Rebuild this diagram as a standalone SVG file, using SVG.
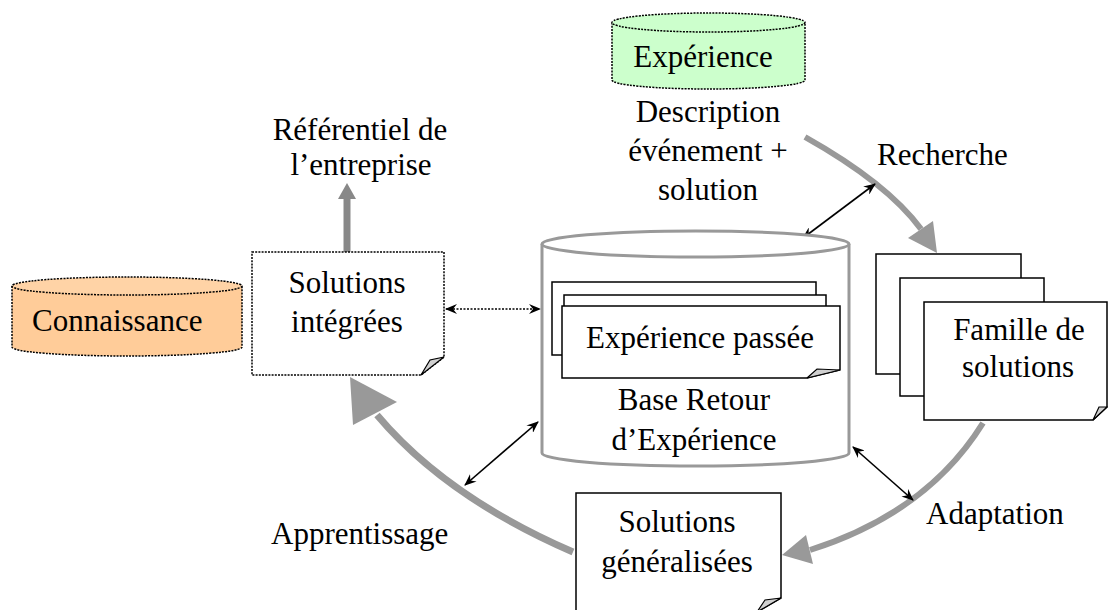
<svg xmlns="http://www.w3.org/2000/svg" width="1108" height="610" viewBox="0 0 1108 610">
<style>
text{font-family:"Liberation Serif","Times New Roman",serif;font-size:31px;fill:#000;}
.c{text-anchor:middle;}
.page{fill:#fff;stroke:#000;stroke-width:1.5;}
.dot{fill:#fff;stroke:#000;stroke-width:1.5;stroke-dasharray:2 1.2;}
.fold{fill:#d0d0d0;stroke:#000;stroke-width:1.2;}
.big{fill:none;stroke:#999;stroke-width:6;}
.head{fill:#999;}
.thin{fill:none;stroke:#000;stroke-width:1.6;marker-start:url(#ah);marker-end:url(#ah);}
</style>
<defs>
<marker id="ah" viewBox="0 0 12 10" refX="11" refY="5" markerWidth="12" markerHeight="10" markerUnits="userSpaceOnUse" orient="auto-start-reverse">
<path d="M0,0 L12,5 L0,10 L4,5 z" fill="#000"/>
</marker>
</defs>

<g id="connectors">
<!-- up arrow to Référentiel -->
<line x1="347" y1="252" x2="347" y2="198" stroke="#888" stroke-width="7"/>
<polygon points="347,183 338,199 356,199" fill="#888"/>
<!-- Recherche -->
<path class="big" d="M805,137 Q887,183 921,229"/>
<polygon class="head" points="937,253 908,238 933,221"/>
<!-- Adaptation -->
<path class="big" d="M983,423 Q927,513 810,550"/>
<polygon class="head" points="782,555 806,535 813,564"/>
<!-- Apprentissage -->
<path class="big" style="stroke-width:7" d="M573,552 Q446,497 377,415"/>
<polygon class="head" points="350,377 353,425 397,402"/>
<!-- thin double arrows -->
<line class="thin" x1="875" y1="184" x2="803" y2="238"/>
<line class="thin" x1="538" y1="422" x2="465" y2="485"/>
<line class="thin" x1="853" y1="447" x2="913" y2="500"/>
<line class="thin" style="stroke-dasharray:2 1.5" x1="446" y1="309" x2="540" y2="309"/>
</g>

<g id="experience">
<path d="M612,22.5 L612,80 A96.5,9 0 0 0 805,80 L805,22.5" fill="#ccffcc" stroke="#000" stroke-width="1.5" stroke-dasharray="2 1.2"/>
<ellipse cx="708.5" cy="22.5" rx="96.5" ry="9.5" fill="#ccffcc" stroke="#000" stroke-width="1.5" stroke-dasharray="2 1.2"/>
<text class="c" x="703" y="67">Expérience</text>
</g>

<g id="description">
<text class="c" x="708" y="122">Description</text>
<text class="c" x="708" y="161">événement +</text>
<text class="c" x="708" y="200">solution</text>
</g>

<g id="recherche"><text x="877" y="165">Recherche</text></g>
<g id="referentiel">
<text class="c" x="360" y="140">Référentiel de</text>
<text class="c" x="361" y="175">l’entreprise</text>
</g>

<g id="connaissance">
<path d="M12,286 L12,347 A115,9 0 0 0 242,347 L242,286" fill="#ffcc99" stroke="#000" stroke-width="1.5" stroke-dasharray="2 1.2"/>
<ellipse cx="127" cy="286" rx="115" ry="9" fill="#ffd3a6" stroke="#000" stroke-width="1.5" stroke-dasharray="2 1.2"/>
<text x="32" y="331">Connaissance</text>
</g>

<g id="solutions-integrees">
<path class="dot" d="M252,252 L444,252 L444,357 L421,375 L252,375 Z"/>
<path class="fold" d="M421,375 L444,357 L430,360 Z"/>
<text class="c" x="347" y="293">Solutions</text>
<text class="c" x="347" y="332">intégrées</text>
</g>

<g id="base-retour">
<path d="M542,244 L542,453 A153.5,13 0 0 0 849,453 L849,244" fill="#fff" stroke="#999" stroke-width="3"/>
<ellipse cx="695.5" cy="244" rx="153.5" ry="13" fill="#fff" stroke="#999" stroke-width="3"/>
<rect class="page" x="552" y="282" width="264" height="73"/>
<rect class="page" x="564" y="295" width="262" height="70"/>
<path class="page" d="M562,306 L840,306 L840,370 L807,378 L562,378 Z"/>
<path class="fold" d="M807,378 L840,370 L817,369 Z"/>
<text class="c" x="700" y="348">Expérience passée</text>
<text class="c" x="694" y="410">Base Retour</text>
<text class="c" x="694" y="450">d’Expérience</text>
</g>

<g id="famille">
<rect class="page" x="876" y="254" width="145" height="120"/>
<rect class="page" x="900" y="278" width="144" height="118"/>
<path class="page" d="M924,302 L1107,302 L1107,407 L1093,420 L924,420 Z"/>
<path class="fold" d="M1093,420 L1107,407 L1099,407 Z"/>
<text class="c" x="1019" y="340">Famille de</text>
<text class="c" x="1018" y="377">solutions</text>
</g>

<g id="solutions-generalisees">
<path class="page" d="M576,493 L781,493 L781,598 L757,612 L576,612 Z"/>
<path class="fold" d="M757,612 L781,598 L765,600 Z"/>
<text class="c" x="677" y="532">Solutions</text>
<text class="c" x="677" y="572">généralisées</text>
</g>

<g id="labels">
<text x="271" y="544">Apprentissage</text>
<text x="926" y="524">Adaptation</text>
</g>
</svg>
